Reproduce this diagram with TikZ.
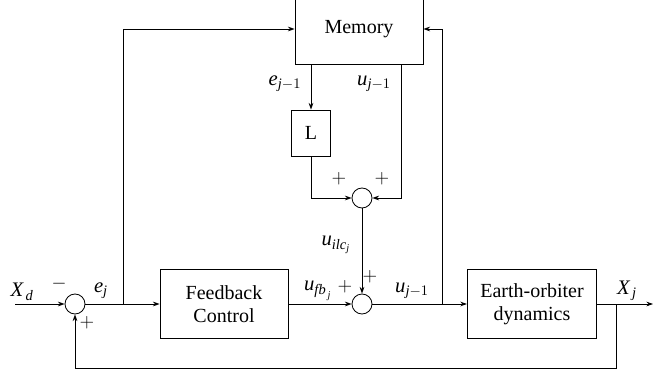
\documentclass[tikz,border=0pt]{standalone}
\usepackage{amsmath}
\usepackage{fontspec}
\setmainfont{Liberation Serif}
\usetikzlibrary{arrows.meta}

\newcommand{\mv}[1]{\textit{#1}}

\tikzset{
  blk/.style={draw, align=center, inner sep=0pt, font=\fontsize{15}{17}\selectfont},
  sumc/.style={draw, circle, minimum size=15pt, inner sep=0pt},
  lbl/.style={inner sep=0.75pt, font=\fontsize{15.5}{17}\selectfont},
}

\begin{document}
\begin{tikzpicture}[x=0.75pt,y=0.75pt,yscale=-1,xscale=1,>={Stealth[length=5pt,width=3.5pt]},line width=0.6pt]
\useasboundingbox (0,0) rectangle (653,374);
% Blocks
\node [blk, minimum width=96pt, minimum height=52.5pt] (mem) at (359,29) {Memory};
\node [blk, minimum width=29pt, minimum height=34.5pt] (L) at (311,133) {L};
\node [blk, minimum width=96pt, minimum height=52pt] (fb) at (224,304) {Feedback\\Control};
\node [blk, minimum width=97pt, minimum height=52pt] (eo) at (532,304) {Earth-orbiter\\dynamics};
% Summing junctions
\node [sumc] (s1) at (75,304) {};
\node [sumc] (s2) at (362,304) {};
\node [sumc] (s3) at (362,198) {};
% Points on the lines
\coordinate (in) at (15,304);
\coordinate (out) at (653,304);
\coordinate (br1) at (123,304);
\coordinate (br2) at (442,304);
\coordinate (br3) at (616,304);
\coordinate (bot) at (75,368);

% Forward path
\draw [->] (in) -- (s1);
\draw [->] (s1) -- (fb);
\draw [->] (fb) -- (s2);
\draw [->] (s2) -- (eo);
\draw [->] (eo) -- (out);
% Memory inputs
\draw [->] (br1) |- (mem.west);
\draw [->] (br2) |- (mem.east);
% Learning branch
\draw [->] (mem.south -| L) -- (L);
\draw [->] (L.south) |- (s3.west);
\draw [->] ([xshift=32pt]mem.south) |- (s3.east);
\draw [->] (s3) -- (s2);
% Feedback loop
\draw [->] (br3) |- (bot) -- (s1.south);

% Text Node
\node [lbl] (xd) at (22,292) {$\mv{X}_{\,\mv{d}}$};
\node [lbl] (m1) at (59,284) {$-$};
\node [lbl] (p1) at (87,323) {$+$};
\node [lbl] (ej) at (101,291) {$\mv{e}_{\mv{j}}$};
\node [lbl] (ejm) at (285,84) {$\mv{e}_{\mv{j}-1}$};
\node [lbl] (ujm) at (374,84) {$\mv{u}_{\mv{j}-1}$};
\node [lbl] (p2) at (339,179) {$+$};
\node [lbl] (p3) at (382,179) {$+$};
\node [lbl] (uilc) at (336,245) {$\mv{u}_{\mv{ilc}_{\mv{j}}}$};
\node [lbl] (p4) at (370,277) {$+$};
\node [lbl] (ufb) at (318,291) {$\mv{u}_{\mv{fb}_{\,\mv{j}}}$};
\node [lbl] (p5) at (345,287) {$+$};
\node [lbl] (uj) at (412,291) {$\mv{u}_{\mv{j}-1}$};
\node [lbl] (xj) at (627,291) {$\mv{X}_{\,\mv{j}}$};
\end{tikzpicture}
\end{document}
